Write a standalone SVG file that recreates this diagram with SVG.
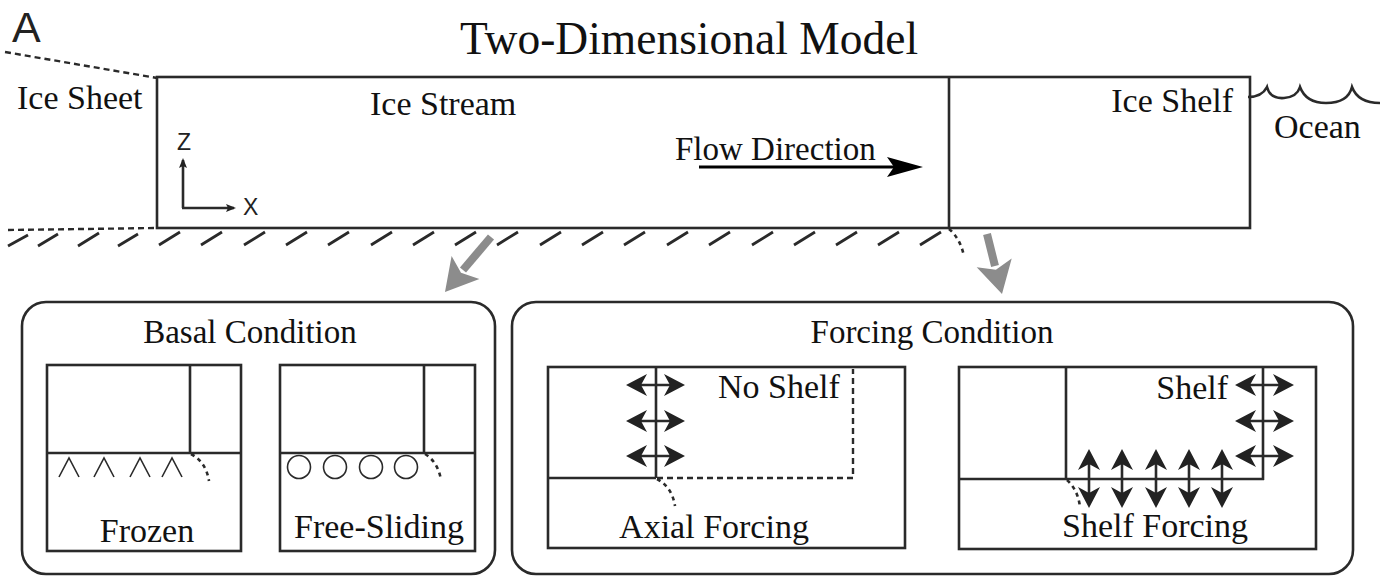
<svg xmlns="http://www.w3.org/2000/svg" width="1380" height="577" viewBox="0 0 1380 577">
<style>
.t{font-family:"Liberation Serif","Times New Roman",serif;fill:#111;font-size:34px}
.s{font-family:"Liberation Sans",Arial,sans-serif;fill:#222}
.f33{font-size:33px}
.f44{font-size:45.5px}
.f42{font-size:43px}
.f23{font-size:23px}
.ln{stroke:#2a2a2a;stroke-width:2.6;fill:none}
.hat{stroke:#2a2a2a;stroke-width:2.8;fill:none}
.thin{stroke:#2a2a2a;stroke-width:1.6;fill:none}
.dash{stroke:#2a2a2a;stroke-width:2.4;fill:none;stroke-dasharray:6 4}
.dot{stroke:#2a2a2a;stroke-width:2.6;fill:none;stroke-dasharray:4 4}
.gray{stroke:#8c8c8c;stroke-width:8;fill:none}
.hd{fill:#222}
</style>
<defs>
<path id="hd" d="M0,0 L-21,-11 L-15,0 L-21,11 Z"/>
<marker id="ax" viewBox="-9 -5 11 10" refX="0" refY="0" markerWidth="11" markerHeight="10" markerUnits="userSpaceOnUse" orient="auto">
<path d="M2,0 L-8,-4 L-6,0 L-8,4 Z" fill="#222"/>
</marker>
</defs>

<text class="s f42" x="12" y="42">A</text>
<text class="t f44" x="689" y="54" text-anchor="middle">Two-Dimensional Model</text>

<g id="main-model">
<path class="dash" d="M5,52 L157,78"/>
<path class="dash" d="M8,230 L157,228"/>
<rect class="ln" x="157" y="77" width="1093" height="151"/>
<line class="ln" x1="949" y1="77" x2="949" y2="228"/>
<g class="hat">
<path d="M8,246 l20,-11 M38,246 l20,-12 M78,246 l21,-13 M118,246 l20,-12"/>
<path d="M159,245 l21,-13 M201,245 l21,-13 M244,245 l21,-13 M286,245 l21,-13 M328,245 l21,-13 M371,245 l21,-13 M413,245 l21,-13 M455,245 l21,-13 M497,245 l21,-13 M540,245 l21,-13 M582,245 l21,-13 M624,245 l21,-13 M667,245 l21,-13 M709,245 l21,-13 M752,245 l21,-13 M794,245 l21,-13 M836,245 l21,-13 M878,245 l21,-13 M920,245 l21,-13"/>
</g>
<path class="dot" d="M949,229 Q960,238 964,256"/>
<line class="ln" x1="183" y1="208" x2="183" y2="160" marker-end="url(#ax)" stroke-width="2.2"/>
<line class="ln" x1="182" y1="208" x2="234" y2="208" marker-end="url(#ax)" stroke-width="2.2"/>
<text class="s f23" x="184" y="150" text-anchor="middle">Z</text>
<text class="s f23" x="243" y="215">X</text>
<text class="t" x="17" y="109">Ice Sheet</text>
<text class="t" x="370" y="115">Ice Stream</text>
<text class="t f33" x="675" y="160">Flow Direction</text>
<line x1="699" y1="167" x2="898" y2="167" stroke="#000" stroke-width="3"/>
<path d="M923,167 L887,157 L894,167 L887,177 Z" fill="#000"/>
<text class="t" x="1233" y="112" text-anchor="end">Ice Shelf</text>
<path class="ln" d="M1248,97 Q1262,97 1267,87 Q1270,99 1284,98 Q1297,97 1300,87 Q1306,103 1326,103 Q1348,103 1352,87 Q1358,103 1380,103"/>
<text class="t" x="1274" y="138">Ocean</text>
</g>

<g id="connectors">
<line class="gray" x1="491" y1="237" x2="463" y2="270"/>
<path d="M445,292 L451.6,255.9 L461,272.7 L479.4,279 Z" fill="#8c8c8c"/>
<line class="gray" x1="987" y1="234" x2="995" y2="266"/>
<path d="M1002,294 L976.7,267.3 L995.9,269.7 L1011.7,258.5 Z" fill="#8c8c8c"/>
</g>

<g id="basal-condition">
<rect class="ln" x="22" y="302" width="473" height="272" rx="24"/>
<text class="t f33" x="250" y="343" text-anchor="middle">Basal Condition</text>
</g>

<g id="frozen">
<rect class="ln" x="47" y="365" width="194" height="186"/>
<path class="ln" d="M190,365 V453 M47,453 H241"/>
<path class="thin" d="M59,477 L69,458 L79,477 M94,477 L104,458 L114,477 M130,477 L140,458 L150,477 M162,477 L172,458 L182,477"/>
<path class="dot" d="M191,454 Q206,462 209,481"/>
<text class="t" x="147" y="542" text-anchor="middle">Frozen</text>
</g>

<g id="free-sliding">
<rect class="ln" x="280" y="365" width="195" height="186"/>
<path class="ln" d="M424,365 V453 M280,453 H475"/>
<g class="thin">
<circle cx="299" cy="467" r="11.5"/><circle cx="335" cy="467" r="11.5"/><circle cx="371" cy="467" r="11.5"/><circle cx="406" cy="467" r="11.5"/>
</g>
<path class="dot" d="M425,454 Q438,462 441,480"/>
<text class="t" x="379" y="538" text-anchor="middle">Free-Sliding</text>
</g>

<g id="forcing-condition">
<rect class="ln" x="512" y="302" width="841" height="272" rx="24"/>
<text class="t f33" x="932" y="343" text-anchor="middle">Forcing Condition</text>
</g>

<g id="axial-forcing">
<rect class="ln" x="548" y="367" width="357" height="181"/>
<path class="ln" d="M656,367 V478 M548,478 H656"/>
<path class="dash" d="M657,478 H853 V369"/>
<path class="ln" d="M630,385 H681 M630,421 H681 M630,456 H681"/>
<g class="hd">
<use href="#hd" transform="translate(626,385) rotate(180)"/><use href="#hd" transform="translate(685,385)"/>
<use href="#hd" transform="translate(626,421) rotate(180)"/><use href="#hd" transform="translate(685,421)"/>
<use href="#hd" transform="translate(626,456) rotate(180)"/><use href="#hd" transform="translate(685,456)"/>
</g>
<text class="t" x="718" y="398">No Shelf</text>
<path class="dot" d="M657,479 Q672,487 675,506"/>
<text class="t" x="714" y="538" text-anchor="middle">Axial Forcing</text>
</g>

<g id="shelf-forcing">
<rect class="ln" x="959" y="367" width="357" height="182"/>
<path class="ln" d="M1066,367 V479 M959,479 H1264 M1263,367 V480"/>
<path class="ln" d="M1239,385 H1290 M1239,421 H1290 M1239,456 H1290 M1089,453 V504 M1122,453 V504 M1156,453 V504 M1189,453 V504 M1222,453 V504"/>
<g class="hd">
<use href="#hd" transform="translate(1235,385) rotate(180)"/><use href="#hd" transform="translate(1294,385)"/>
<use href="#hd" transform="translate(1235,421) rotate(180)"/><use href="#hd" transform="translate(1294,421)"/>
<use href="#hd" transform="translate(1235,456) rotate(180)"/><use href="#hd" transform="translate(1294,456)"/>
<use href="#hd" transform="translate(1089,449) rotate(-90)"/><use href="#hd" transform="translate(1089,508) rotate(90)"/>
<use href="#hd" transform="translate(1122,449) rotate(-90)"/><use href="#hd" transform="translate(1122,508) rotate(90)"/>
<use href="#hd" transform="translate(1156,449) rotate(-90)"/><use href="#hd" transform="translate(1156,508) rotate(90)"/>
<use href="#hd" transform="translate(1189,449) rotate(-90)"/><use href="#hd" transform="translate(1189,508) rotate(90)"/>
<use href="#hd" transform="translate(1222,449) rotate(-90)"/><use href="#hd" transform="translate(1222,508) rotate(90)"/>
</g>
<text class="t" x="1228" y="399" text-anchor="end">Shelf</text>
<path class="dot" d="M1067,480 Q1078,490 1080,507"/>
<text class="t" x="1155" y="537" text-anchor="middle">Shelf Forcing</text>
</g>
</svg>
